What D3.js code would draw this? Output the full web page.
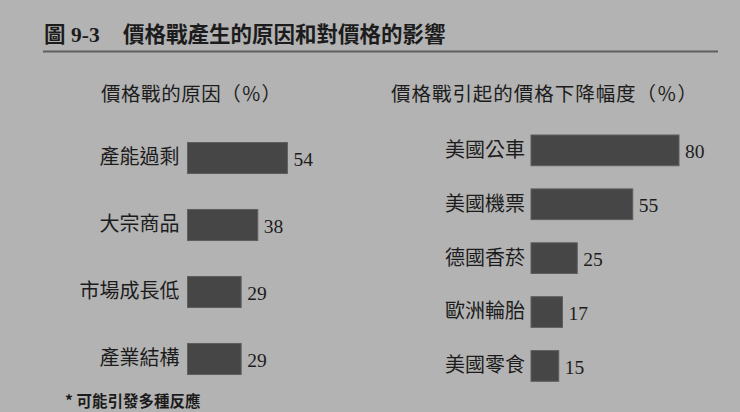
<!DOCTYPE html>
<html>
<head>
<meta charset="utf-8">
<script src="https://cdn.jsdelivr.net/npm/d3@7"></script>
<style>
  html, body { margin: 0; padding: 0; background: #b3b3b3; }
  svg { display: block; }
  text { fill: #1c1c1c; }
  .cjk { font-family: "Liberation Serif", "Noto Sans CJK TC", serif; }
</style>
</head>
<body>
<svg id="chart"></svg>
<script>
// chart data
let causes = ["產能過剩", "大宗商品", "市場成長低", "產業結構"];
let causeValues = [54, 38, 29, 29];

let drops = ["美國公車", "美國機票", "德國香菸", "歐洲輪胎", "美國零食"];
let dropValues = [80, 55, 25, 17, 15];

let figLabel = "圖";
let figNumber = "9-3";
let titleText = "價格戰產生的原因和對價格的影響";
let leftTitle = "價格戰的原因（％）";
let rightTitle = "價格戰引起的價格下降幅度（％）";
let footnote = "* 可能引發多種反應";

const width = 740;
const height = 412;

let svg = d3.select("svg#chart")
  .attr("width", width)
  .attr("height", height);

svg.append("rect")
  .attr("width", width)
  .attr("height", height)
  .attr("fill", "#b3b3b3");

// heading + rule
let head = svg.append("text")
  .attr("class", "cjk")
  .attr("y", 42)
  .attr("font-size", 21.5)
  .attr("font-weight", 700);
head.append("tspan").attr("x", 44).text(figLabel);
head.append("tspan").attr("x", 71).text(figNumber);
head.append("tspan").attr("x", 123).text(titleText);

svg.append("line")
  .attr("x1", 43).attr("x2", 718)
  .attr("y1", 51.5).attr("y2", 51.5)
  .attr("stroke", "#5e5e5e")
  .attr("stroke-width", 1.8);

// panel headings, stretched to the width they have in the print
svg.append("text")
  .attr("class", "cjk")
  .attr("x", 101)
  .attr("y", 101)
  .attr("font-size", 19.5)
  .attr("textLength", 180)
  .attr("lengthAdjust", "spacing")
  .text(leftTitle);

svg.append("text")
  .attr("class", "cjk")
  .attr("x", 391)
  .attr("y", 101)
  .attr("font-size", 19.5)
  .attr("textLength", 306)
  .attr("lengthAdjust", "spacing")
  .text(rightTitle);

svg.append("text")
  .attr("x", 65)
  .attr("y", 407)
  .attr("font-family", "Noto Sans CJK TC")
  .attr("font-size", 15.5)
  .attr("font-weight", 700)
  .text(footnote);

// both panels share the same percent scale width
function panel(names, values, x0, yRange, inner, pad) {
  let xScale = d3.scaleLinear()
    .domain([0, 100])
    .range([x0, x0 + 185]);

  let yScale = d3.scaleBand()
    .domain(names)
    .range(yRange)
    .paddingInner(inner)
    .paddingOuter(0);

  let g = svg.append("g");

  let yAxis = d3.axisLeft(yScale).tickSize(0).tickPadding(pad);
  let yGroup = g.append("g")
    .attr("transform", "translate(" + x0 + ",0)")
    .call(yAxis);
  yGroup.select(".domain").remove();
  yGroup.selectAll("text")
    .attr("class", "cjk")
    .attr("font-size", 20)
    .attr("fill", "#1c1c1c");

  let pairs = names.map((n, i) => [n, values[i]]);

  g.selectAll("rect.bar")
    .data(pairs)
    .enter().append("rect")
    .attr("class", "bar")
    .attr("x", xScale(0))
    .attr("y", d => yScale(d[0]))
    .attr("width", d => xScale(d[1]) - xScale(0))
    .attr("height", yScale.bandwidth())
    .attr("fill", "#464646")
    .attr("stroke", "#5e5e5e")
    .attr("stroke-width", 1);

  g.selectAll("text.val")
    .data(pairs)
    .enter().append("text")
    .attr("class", "val")
    .attr("x", d => xScale(d[1]) + 6)
    .attr("y", d => yScale(d[0]) + yScale.bandwidth() / 2)
    .attr("dy", "0.4em")
    .attr("font-family", "Liberation Serif")
    .attr("font-size", 19.5)
    .text(d => d[1]);
}

panel(causes, causeValues, 187.5, [142.5, 374.5], 0.537, 8);
panel(drops, dropValues, 531, [135, 381.3], 0.43, 6);
</script>
</body>
</html>
